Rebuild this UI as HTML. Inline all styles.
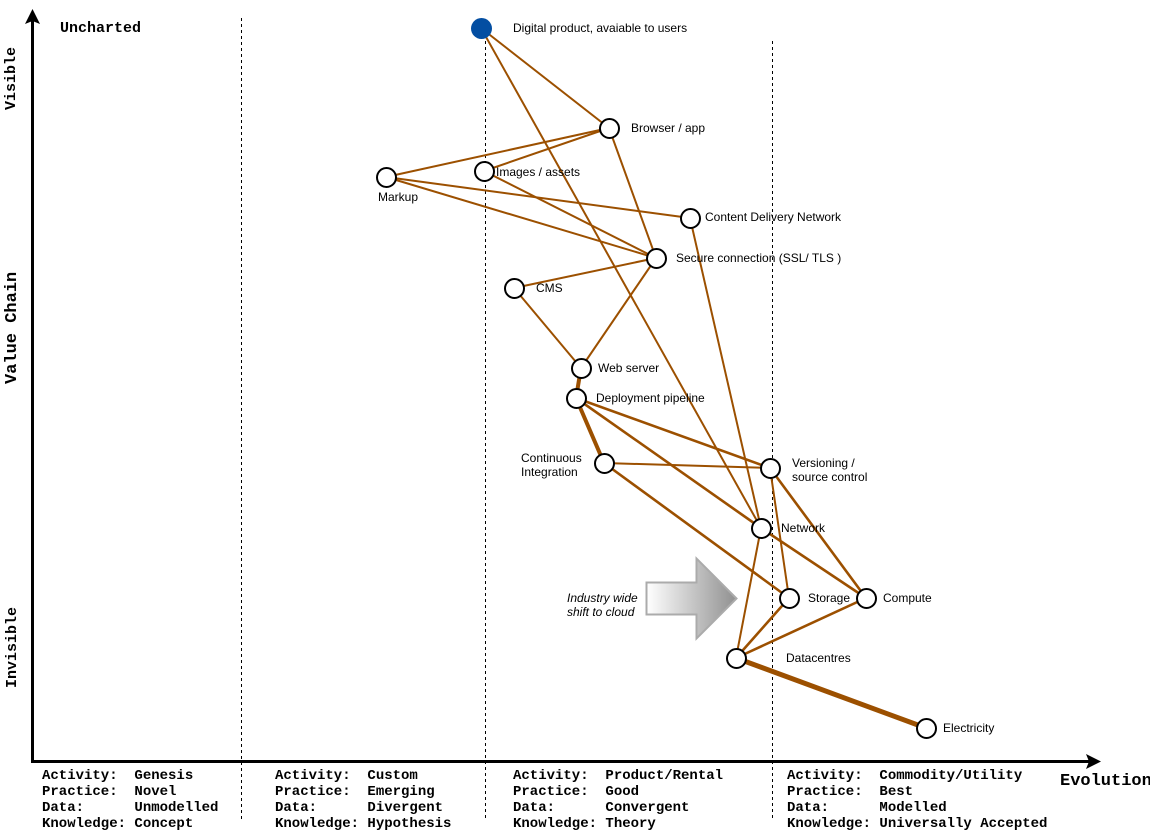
<!DOCTYPE html>
<html>
<head>
<meta charset="utf-8">
<style>
html,body{margin:0;padding:0;background:#fff;width:1150px;height:831px;overflow:hidden}
svg{display:block}
.s{font-family:"Liberation Sans",sans-serif;font-size:12px;fill:#000}
.m{font-family:"Liberation Mono",monospace;font-weight:bold;font-size:14px;fill:#000;white-space:pre}
.m15{font-family:"Liberation Mono",monospace;font-weight:bold;font-size:15px;fill:#000}
.m17{font-family:"Liberation Mono",monospace;font-weight:bold;font-size:17px;fill:#000}
</style>
</head>
<body>
<svg width="1150" height="831" viewBox="0 0 1150 831" xmlns="http://www.w3.org/2000/svg">
<defs>
<linearGradient id="g" x1="0" y1="0" x2="1" y2="0">
<stop offset="0" stop-color="#ffffff"/>
<stop offset="1" stop-color="#909090"/>
</linearGradient>
</defs>

<!-- dashed dividers -->
<g stroke="#000" stroke-width="1" stroke-dasharray="3 3" fill="none">
<line x1="241.5" y1="18" x2="241.5" y2="820"/>
<line x1="485.5" y1="41" x2="485.5" y2="820"/>
<line x1="772.5" y1="41" x2="772.5" y2="820"/>
</g>

<!-- axes -->
<line x1="32.5" y1="763" x2="32.5" y2="20" stroke="#000" stroke-width="3"/>
<polygon points="32.5,9 40,24 32.5,21 25,24" fill="#000"/>
<line x1="31" y1="761.500" x2="1090" y2="761.500" stroke="#000" stroke-width="3"/>
<polygon points="1101,761.500 1086,754 1089,761.500 1086,769" fill="#000"/>

<!-- connectors -->
<g stroke="#9c5000" fill="none" stroke-linecap="round">
<g stroke-width="2">
<line x1="481" y1="28" x2="609" y2="128"/>
<line x1="481" y1="28" x2="761" y2="528"/>
<line x1="609" y1="128" x2="386" y2="177"/>
<line x1="609" y1="128" x2="484" y2="171"/>
<line x1="609" y1="128" x2="656" y2="258"/>
<line x1="386" y1="177" x2="690" y2="218"/>
<line x1="386" y1="177" x2="656" y2="258"/>
<line x1="484" y1="171" x2="656" y2="258"/>
<line x1="514" y1="288" x2="656" y2="258"/>
<line x1="514" y1="288" x2="581" y2="368"/>
<line x1="656" y1="258" x2="581" y2="368"/>
<line x1="690" y1="218" x2="761" y2="528"/>
<line x1="604" y1="463" x2="770" y2="468"/>
<line x1="761" y1="528" x2="736" y2="658"/>
<line x1="770" y1="468" x2="789" y2="598"/>
</g>
<g stroke-width="2.600">
<line x1="576" y1="398" x2="770" y2="468"/>
<line x1="576" y1="398" x2="761" y2="528"/>
<line x1="604" y1="463" x2="789" y2="598"/>
<line x1="770" y1="468" x2="866" y2="598"/>
<line x1="761" y1="528" x2="866" y2="598"/>
<line x1="789" y1="598" x2="736" y2="658"/>
<line x1="866" y1="598" x2="736" y2="658"/>
</g>
<line x1="581" y1="368" x2="576" y2="398" stroke-width="4"/>
<line x1="576" y1="398" x2="604" y2="463" stroke-width="4"/>
<line x1="736" y1="658" x2="926" y2="728" stroke-width="5"/>
</g>

<!-- big arrow -->
<polygon points="646.500,582.500 696.500,582.500 696.500,558.500 736.500,598.500 696.500,638.500 696.500,614.500 646.500,614.500" fill="url(#g)" stroke="#ababab" stroke-width="2"/>

<!-- nodes -->
<circle cx="481.500" cy="28.500" r="10.500" fill="#034ea2"/>
<g fill="#fff" stroke="#000" stroke-width="2">
<circle cx="609.500" cy="128.500" r="9.500"/>
<circle cx="386.500" cy="177.500" r="9.500"/>
<circle cx="484.500" cy="171.500" r="9.500"/>
<circle cx="690.500" cy="218.500" r="9.500"/>
<circle cx="656.500" cy="258.500" r="9.500"/>
<circle cx="514.500" cy="288.500" r="9.500"/>
<circle cx="581.500" cy="368.500" r="9.500"/>
<circle cx="576.500" cy="398.500" r="9.500"/>
<circle cx="604.500" cy="463.500" r="9.500"/>
<circle cx="770.500" cy="468.500" r="9.500"/>
<circle cx="761.500" cy="528.500" r="9.500"/>
<circle cx="789.500" cy="598.500" r="9.500"/>
<circle cx="866.500" cy="598.500" r="9.500"/>
<circle cx="736.500" cy="658.500" r="9.500"/>
<circle cx="926.500" cy="728.500" r="9.500"/>
</g>

<!-- node labels -->
<text class="s" x="513" y="32">Digital product, avaiable to users</text>
<text class="s" x="631" y="132">Browser / app</text>
<text class="s" x="496" y="176">Images / assets</text>
<text class="s" x="378" y="201">Markup</text>
<text class="s" x="705" y="221">Content Delivery Network</text>
<text class="s" x="676" y="262">Secure connection (SSL/ TLS )</text>
<text class="s" x="536" y="292">CMS</text>
<text class="s" x="598" y="372">Web server</text>
<text class="s" x="596" y="402">Deployment pipeline</text>
<text class="s" x="521" y="462">Continuous</text>
<text class="s" x="521" y="476">Integration</text>
<text class="s" x="792" y="467">Versioning /</text>
<text class="s" x="792" y="481">source control</text>
<text class="s" x="781" y="532">Network</text>
<text class="s" x="808" y="602">Storage</text>
<text class="s" x="883" y="602">Compute</text>
<text class="s" x="786" y="662">Datacentres</text>
<text class="s" x="943" y="732">Electricity</text>
<text class="s" x="567" y="602" font-style="italic">Industry wide</text>
<text class="s" x="567" y="616" font-style="italic">shift to cloud</text>

<!-- axis labels -->
<text class="m15" x="60" y="32">Uncharted</text>
<text class="m15" transform="translate(15,110) rotate(-90)">Visible</text>
<text class="m17" transform="translate(16,384) rotate(-90)">Value Chain</text>
<text class="m15" transform="translate(16,688) rotate(-90)">Invisible</text>
<text class="m17" x="1060" y="785">Evolution</text>

<!-- stage tables -->
<text class="m" x="42" y="779">Activity:  Genesis</text>
<text class="m" x="42" y="795">Practice:  Novel</text>
<text class="m" x="42" y="811">Data:      Unmodelled</text>
<text class="m" x="42" y="827">Knowledge: Concept</text>

<text class="m" x="275" y="779">Activity:  Custom</text>
<text class="m" x="275" y="795">Practice:  Emerging</text>
<text class="m" x="275" y="811">Data:      Divergent</text>
<text class="m" x="275" y="827">Knowledge: Hypothesis</text>

<text class="m" x="513" y="779">Activity:  Product/Rental</text>
<text class="m" x="513" y="795">Practice:  Good</text>
<text class="m" x="513" y="811">Data:      Convergent</text>
<text class="m" x="513" y="827">Knowledge: Theory</text>

<text class="m" x="787" y="779">Activity:  Commodity/Utility</text>
<text class="m" x="787" y="795">Practice:  Best</text>
<text class="m" x="787" y="811">Data:      Modelled</text>
<text class="m" x="787" y="827">Knowledge: Universally Accepted</text>
</svg>
</body>
</html>
